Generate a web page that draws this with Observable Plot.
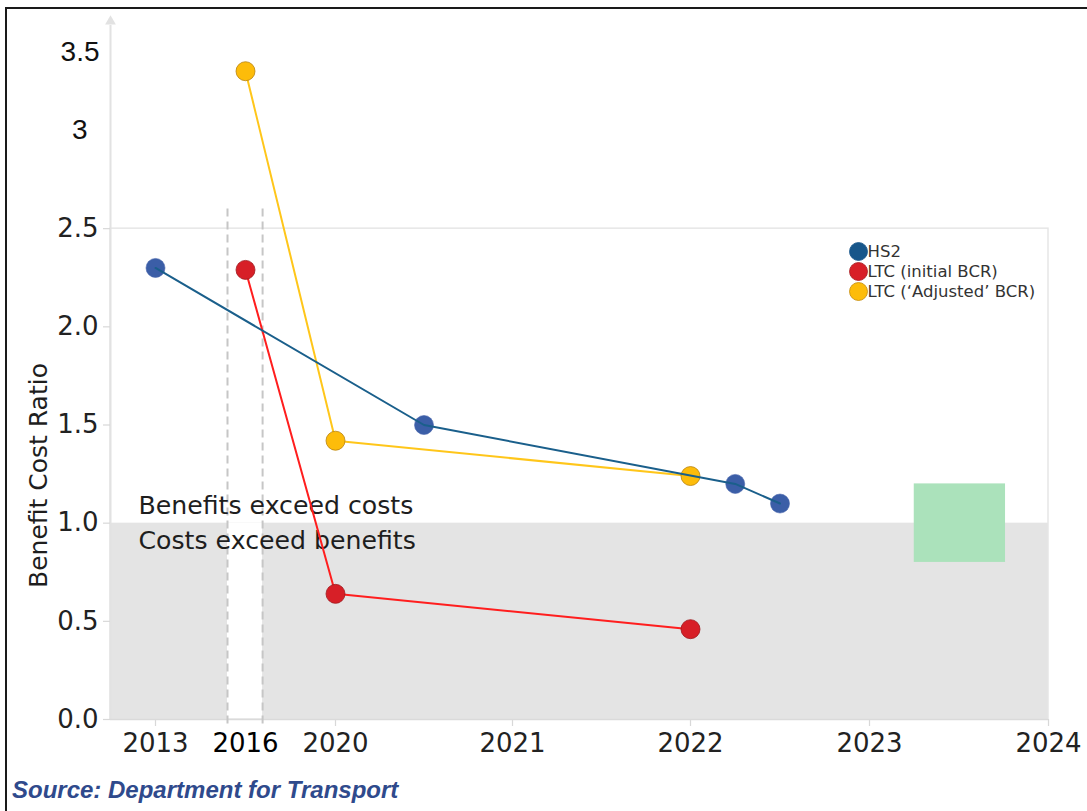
<!DOCTYPE html>
<html><head><meta charset="utf-8">
<script src="https://cdn.jsdelivr.net/npm/d3@7"></script>
<script src="https://cdn.jsdelivr.net/npm/@observablehq/plot@0.6"></script>
<style>
body{margin:0;background:#fff;}
#wrap{position:relative;width:1087px;height:811px;overflow:hidden;background:#fff;}
#border{position:absolute;left:5px;top:7px;width:1200px;height:900px;border-left:2px solid #1a1a1a;border-top:2px solid #1a1a1a;}
#chart{position:absolute;left:0;top:0;}
#source{position:absolute;left:12px;top:778px;font:italic bold 24px/1 "Liberation Sans",Arial,sans-serif;color:#2f4a8c;white-space:nowrap;}
</style></head><body>
<div id="wrap"><div id="border"></div><div id="chart"></div><div id="source">Source: Department for Transport</div></div>
<script>
// ---- data ----
const xTickYears = [2013, 2016, 2020, 2021, 2022, 2023, 2024];
const hs2Years = [2013, 2020.5, 2022.25, 2022.5];
const hs2Values = [2.3, 1.5, 1.2, 1.1];
const ltcYears = [2016, 2020, 2022];
const ltcInitialValues = [2.29, 0.64, 0.46];
const ltcAdjustedValues = [3.38, 1.42, 1.24];
const yTicks = [0, 0.5, 1.0, 1.5, 2.0, 2.5];
const yTicksUpper = [3.5, 3];
const seriesNames = ["HS2", "LTC (initial BCR)", "LTC (\u2018Adjusted\u2019 BCR)"];
const dividerYears = [2015.4, 2016.76];
const dividerTop = 2.6;
const breakEven = 1.0;
const frameTop = 2.5;
const greenBox = {x1: 2023.25, x2: 2023.76, y1: 0.8, y2: 1.2};
const aboveText = "Benefits exceed costs";
const belowText = "Costs exceed benefits";
const yLabel = "Benefit Cost Ratio";

// ---- scales (piecewise, as in the original picture) ----
const xDomain = [2011.5, 2013, 2016, 2020, 2021, 2022, 2023, 2024];
const xRange  = [110, 155, 245, 335, 512, 690, 869, 1048];
const yDomain = [0, 3, 3.5];
const yRange  = [719, 130, 52];
const xMin = xDomain[0], xMax = xDomain[xDomain.length - 1];

const toRows = (xs, ys) => xs.map((x, i) => ({x, y: ys[i]}));
const hs2 = toRows(hs2Years, hs2Values);
const ltcInit = toRows(ltcYears, ltcInitialValues);
const ltcAdj = toRows(ltcYears, ltcAdjustedValues);

const lineColors = ["#1a5f8b", "#ff1e1e", "#ffc61a"];
const legendFill = ["#17568a", "#d81f27", "#fdbc0a"];
const legendStroke = ["#17568a", "#a51a20", "#c48a08"];

const font = "DejaVu Sans";

const legendMarks = seriesNames.flatMap((name, i) => [
  Plot.dot([name], {frameAnchor: "top-right", dx: -190, dy: 20 + 20 * i, r: 9,
    fill: legendFill[i], stroke: legendStroke[i], strokeWidth: 0.8}),
  Plot.text([name], {frameAnchor: "top-right", dx: -181, dy: 20 + 20 * i, text: d => d,
    textAnchor: "start", lineAnchor: "middle", fontSize: 16.5, fill: "#333"})
]);

const chart = Plot.plot({
  width: 1087, height: 770,
  marginLeft: 110, marginRight: 39, marginTop: 231, marginBottom: 51,
  x: {type: "linear", domain: xDomain, range: xRange, axis: null},
  y: {type: "linear", domain: yDomain, range: yRange, axis: null},
  style: {fontFamily: font, background: "transparent", overflow: "visible"},
  marks: [
    // shaded "costs exceed benefits" band
    Plot.rect([{}], {x1: xMin, x2: xMax, y1: 0, y2: breakEven, fill: "#e4e4e4"}),
    // white gap between the dashed dividers
    Plot.rect([{}], {x1: dividerYears[0], x2: dividerYears[1], y1: 0, y2: breakEven, fill: "#ffffff"}),
    // light frame
    Plot.rect([{}], {x1: xMin, x2: xMax, y1: 0, y2: frameTop, fill: "none", stroke: "#e6e6e6", strokeWidth: 1.5}),
    // green box
    Plot.rect([greenBox], {x1: "x1", x2: "x2", y1: "y1", y2: "y2", fill: "#abe2bb"}),
    // y axis line with arrow
    Plot.ruleX([xMin], {y1: yDomain[2], y2: 0, insetTop: -27, stroke: "#e2e2e2", strokeWidth: 2}),
    Plot.dot([yDomain[2]], {x: () => xMin, y: d => d, symbol: "triangle", r: 4, dy: -31, fill: "#e2e2e2", stroke: "none"}),
    // ticks
    Plot.ruleY(yTicks, {x1: xMin, x2: xMin, insetLeft: -7, stroke: "#d8d8d8", strokeWidth: 1.2}),
    Plot.ruleX(xTickYears.filter(d => d !== 2016), {y1: 0, y2: 0, insetBottom: -7, stroke: "#d8d8d8", strokeWidth: 1.2}),
    Plot.ruleY([0], {x1: xMin, x2: xMax, stroke: "#dadada", strokeWidth: 1.5}),
    // dashed dividers
    Plot.ruleX(dividerYears, {y1: dividerTop, y2: 0, insetBottom: -6, stroke: "#c6c6c6", strokeWidth: 2, strokeDasharray: "8,5"}),
    // annotations
    Plot.text([aboveText], {frameAnchor: "left", y: () => breakEven, dx: 28, dy: -9, text: d => d,
      textAnchor: "start", lineAnchor: "bottom", fontSize: 25.2, fill: "#1e1e1e"}),
    Plot.text([belowText], {frameAnchor: "left", y: () => breakEven, dx: 28, dy: 8, text: d => d,
      textAnchor: "start", lineAnchor: "top", fontSize: 25.2, fill: "#1e1e1e"}),
    // series lines
    Plot.line(ltcInit, {x: "x", y: "y", stroke: lineColors[1], strokeWidth: 2}),
    Plot.line(ltcAdj, {x: "x", y: "y", stroke: lineColors[2], strokeWidth: 2}),
    Plot.dot(ltcInit, {x: "x", y: "y", r: 9.5, fill: "#d71f27", stroke: "#9e1a1f", strokeWidth: 0.8}),
    Plot.dot(ltcAdj, {x: "x", y: "y", r: 9.5, fill: "#fdbc0a", stroke: "#b88310", strokeWidth: 0.8}),
    Plot.dot(hs2, {x: "x", y: "y", r: 9.5, fill: "#3b5ea7", stroke: "#4a67ad", strokeWidth: 0.6}),
    Plot.line(hs2, {x: "x", y: "y", stroke: lineColors[0], strokeWidth: 2}),
    // legend
    ...legendMarks,
    // tick labels
    Plot.text(yTicks, {frameAnchor: "left", y: d => d, text: d => d3.format(".1f")(d), dx: -12,
      textAnchor: "end", lineAnchor: "middle", fontSize: 26, fill: "#222"}),
    Plot.text(yTicksUpper.slice(0, 1), {frameAnchor: "left", y: d => d, text: d => String(d), dx: -11,
      textAnchor: "end", lineAnchor: "middle", fontSize: 28, fill: "#111", fontFamily: "Liberation Sans"}),
    Plot.text(yTicksUpper.slice(1), {frameAnchor: "left", y: d => d, text: d => String(d), dx: -23,
      textAnchor: "end", lineAnchor: "middle", fontSize: 28, fill: "#111", fontFamily: "Liberation Sans"}),
    Plot.text(xTickYears, {x: d => d, frameAnchor: "bottom", text: d => String(d), dy: 14,
      textAnchor: "middle", lineAnchor: "top", fontSize: 26, fill: d => d === 2016 ? "#000" : "#222"}),
    // y label
    Plot.text([yLabel], {frameAnchor: "left", dx: -72, rotate: -90, text: d => d, fontSize: 25,
      textAnchor: "middle", lineAnchor: "middle", fill: "#1e1e1e"})
  ]
});
document.getElementById("chart").appendChild(chart);
</script>
</body></html>
